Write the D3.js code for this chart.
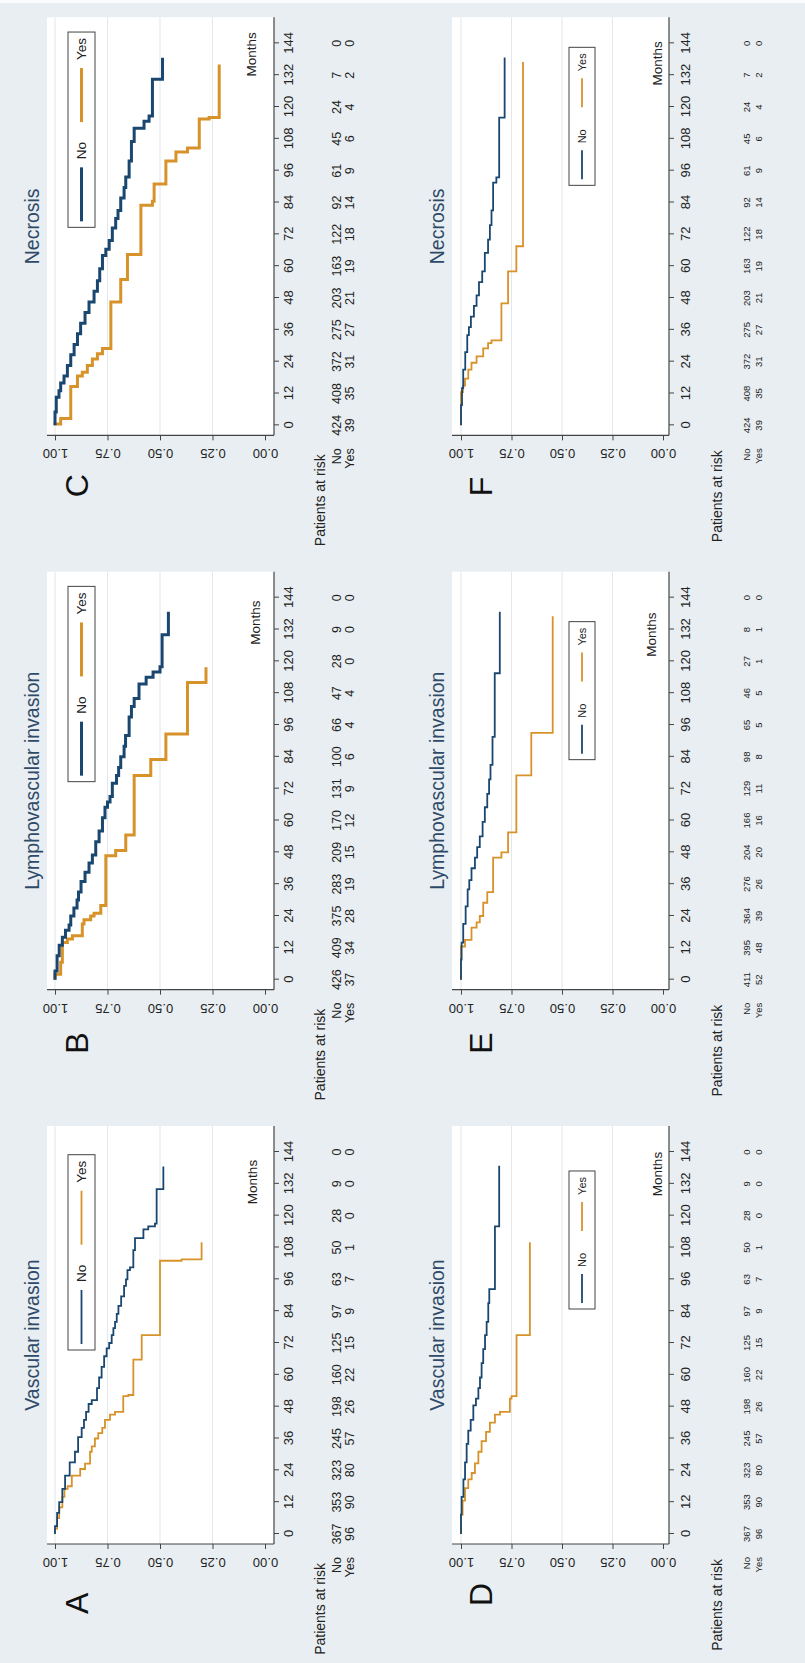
<!DOCTYPE html>
<html>
<head>
<meta charset="utf-8">
<script src="https://cdn.jsdelivr.net/npm/d3@7"></script>
<style>
  body { margin: 0; background: #e8eef1; }
  svg { display: block; }
  text { font-family: "Liberation Sans", Arial, sans-serif; }
</style>
</head>
<body>
<div id="chart"></div>
<script>
// ---- data ----
var months = [0, 12, 24, 36, 48, 60, 72, 84, 96, 108, 120, 132, 144];
var survTicks = [0, 0.25, 0.5, 0.75, 1];
var survLabels = ["0.00", "0.25", "0.50", "0.75", "1.00"];
var groups = ["No", "Yes"];
var titles = ["Vascular invasion", "Lymphovascular invasion", "Necrosis",
              "Vascular invasion", "Lymphovascular invasion", "Necrosis"];
var letters = ["A", "B", "C", "D", "E", "F"];

// Kaplan-Meier steps: [month, survival after the drop]; last pair = end of follow-up
var kmA_No = [[0,1],[3,0.99],[8,0.98],[12,0.965],[17,0.952],[22,0.93],[27,0.905],[31,0.89],[36.5,0.873],[40,0.862],[43,0.852],[46,0.84],[49,0.825],[50.5,0.80],[55,0.79],[59,0.778],[63,0.766],[67,0.754],[70,0.742],[72,0.73],[75,0.722],[77.6,0.714],[80,0.706],[83,0.698],[86,0.685],[89.6,0.671],[93.5,0.662],[96,0.655],[99.5,0.643],[100.5,0.627],[107,0.619],[111.5,0.579],[114.8,0.556],[116,0.524],[117,0.516],[130,0.484],[138.5,0.484]];
var kmA_Yes = [[0,1],[2,0.99],[6,0.98],[10,0.965],[14,0.955],[17,0.94],[18,0.92],[22,0.88],[24.5,0.857],[26.5,0.833],[31,0.825],[33,0.81],[36,0.794],[38,0.775],[40,0.762],[43,0.738],[45,0.714],[46,0.675],[52,0.651],[52.4,0.627],[65.7,0.587],[75,0.50],[103,0.397],[103.5,0.302],[110,0.302]];
var kmB_No = [[0,1],[3.3,0.99],[9,0.98],[13,0.965],[16,0.95],[18.6,0.933],[20.6,0.925],[24,0.91],[27,0.895],[30,0.888],[33,0.876],[37,0.857],[40.5,0.838],[44,0.822],[47,0.806],[52,0.79],[56,0.774],[61,0.762],[65,0.75],[67,0.738],[69,0.727],[74,0.707],[77,0.697],[80,0.687],[84,0.671],[88,0.664],[92,0.647],[99,0.636],[103,0.623],[106,0.60],[111.5,0.566],[114,0.533],[116,0.50],[118,0.49],[130,0.46],[138.7,0.46]];
var kmB_Yes = [[0,1],[2,0.973],[6.6,0.965],[14,0.941],[15.3,0.917],[16.6,0.87],[21,0.862],[22.6,0.83],[24,0.814],[25,0.782],[28,0.758],[46.7,0.711],[48.7,0.663],[54.5,0.623],[77,0.544],[83,0.472],[92.6,0.369],[112,0.281],[117.8,0.281]];
var kmC_No = [[0,1],[5,0.994],[10.6,0.981],[13,0.973],[16,0.957],[18.6,0.941],[22.6,0.925],[26.6,0.909],[30.5,0.893],[34.5,0.878],[38.5,0.857],[42.5,0.838],[46.5,0.814],[50.5,0.798],[54.5,0.787],[59,0.774],[64,0.758],[66.4,0.742],[69.7,0.727],[74.4,0.711],[78,0.70],[81,0.687],[85.7,0.671],[89.7,0.663],[93.6,0.647],[99.6,0.636],[107,0.623],[112,0.576],[114.6,0.552],[116.6,0.536],[130.5,0.488],[138.6,0.488]];
var kmC_Yes = [[0,1],[0.5,0.973],[2.6,0.925],[14.6,0.893],[18.6,0.870],[20,0.846],[22.6,0.822],[25,0.798],[27,0.774],[29,0.734],[46.5,0.687],[55,0.655],[64.4,0.591],[83,0.536],[84.5,0.528],[91,0.472],[99.6,0.424],[103,0.369],[104.5,0.313],[115.5,0.266],[116,0.218],[136,0.218]];
var kmD_No = [[0,1],[7.3,0.997],[14,0.988],[20.6,0.98],[27,0.972],[34,0.964],[39,0.952],[43,0.939],[48.5,0.926],[51,0.914],[55,0.906],[59,0.898],[64.4,0.89],[69.7,0.881],[75,0.873],[80,0.865],[87,0.86],[92.3,0.832],[116,0.811],[138.8,0.811]];
var kmD_Yes = [[0,1],[7.3,0.992],[12.6,0.98],[17.3,0.964],[20.6,0.947],[23,0.931],[26.6,0.914],[31,0.898],[35,0.876],[38.5,0.857],[42,0.832],[45,0.807],[46,0.758],[51,0.75],[52,0.725],[75,0.659],[110,0.659]];
var kmE_No = [[0,1],[7.6,0.997],[14,0.989],[21,0.977],[27.6,0.967],[34,0.959],[37.5,0.948],[42,0.931],[46,0.92],[50,0.907],[54,0.893],[59.5,0.882],[65,0.87],[70,0.861],[75.5,0.854],[81,0.844],[91.5,0.833],[115.5,0.808],[138.7,0.808]];
var kmE_Yes = [[0,1],[12.5,0.98],[15,0.948],[19.6,0.923],[21.6,0.907],[24,0.89],[29,0.87],[33,0.841],[46,0.80],[48,0.767],[55.5,0.726],[77,0.652],[93,0.546],[137,0.546]];
var kmF_No = [[0,1],[7.6,0.995],[14,0.989],[21,0.979],[27.6,0.969],[34,0.961],[37,0.951],[41,0.936],[45,0.923],[49,0.911],[54,0.895],[58,0.882],[65,0.866],[70,0.857],[75.5,0.849],[81,0.841],[91.5,0.825],[93.5,0.811],[116,0.784],[138.7,0.784]];
var kmF_Yes = [[0,1],[12.5,0.99],[15,0.98],[17.6,0.964],[21,0.948],[23.6,0.923],[26,0.89],[29,0.866],[31,0.849],[32,0.80],[46,0.767],[58,0.726],[67.5,0.693],[137,0.693]];

// patients at risk at each month tick
var riskA_No  = [367, 353, 323, 245, 198, 160, 125, 97, 63, 50, 28, 9, 0];
var riskA_Yes = [96, 90, 80, 57, 26, 22, 15, 9, 7, 1, 0, 0, 0];
var riskB_No  = [426, 409, 375, 283, 209, 170, 131, 100, 66, 47, 28, 9, 0];
var riskB_Yes = [37, 34, 28, 19, 15, 12, 9, 6, 4, 4, 0, 0, 0];
var riskC_No  = [424, 408, 372, 275, 203, 163, 122, 92, 61, 45, 24, 7, 0];
var riskC_Yes = [39, 35, 31, 27, 21, 19, 18, 14, 9, 6, 4, 2, 0];
var riskD_No  = [367, 353, 323, 245, 198, 160, 125, 97, 63, 50, 28, 9, 0];
var riskD_Yes = [96, 90, 80, 57, 26, 22, 15, 9, 7, 1, 0, 0, 0];
var riskE_No  = [411, 395, 364, 276, 204, 166, 129, 98, 65, 46, 27, 8, 0];
var riskE_Yes = [52, 48, 39, 26, 20, 16, 11, 8, 5, 5, 1, 1, 0];
var riskF_No  = [424, 408, 372, 275, 203, 163, 122, 92, 61, 45, 24, 7, 0];
var riskF_Yes = [39, 35, 31, 27, 21, 19, 18, 14, 9, 6, 4, 2, 0];

// ---- layout ----
var W = 805, H = 1663;
var PW = H / 3;          // panel width in the unrotated figure
var navy = "#1a476f", orange = "#d8922a";

var rows = [
  {y0: 0,   top: 47, bottom: 274, s1: 55, s0: 265, tickBase: 19, titleBase: 39,
   legY: 68, legH: 27, legKey: 54, legFont: 13.5, legGap: 8, legGap2: 20,
   riskNo: 341, riskYes: 354, riskFont: 12.5, parY: 325, parEnd: 100, letterY: 88},
  {y0: 400, top: 52, bottom: 269, s1: 61, s0: 263, tickBase: 21, titleBase: 44,
   legY: 169, legH: 26, legKey: 29, legFont: 11, legGap: 7, legGap2: 22,
   riskNo: 350, riskYes: 362, riskFont: 9.5, parY: 322, parEnd: 104, letterY: 92}
];

var panels = [
  {no: kmA_No, yes: kmA_Yes, rNo: riskA_No, rYes: riskA_Yes, col: 0, row: 0, lw: 1.8, legX: 313, mX: 481, mY: 257, lX: 49},
  {no: kmB_No, yes: kmB_Yes, rNo: riskB_No, rYes: riskB_Yes, col: 1, row: 0, lw: 3,   legX: 327, mX: 486, mY: 260, lX: 55},
  {no: kmC_No, yes: kmC_Yes, rNo: riskC_No, rYes: riskC_Yes, col: 2, row: 0, lw: 3,   legX: 327, mX: 500, mY: 256, lX: 57},
  {no: kmD_No, yes: kmD_Yes, rNo: riskD_No, rYes: riskD_Yes, col: 0, row: 1, lw: 1.8, legX: 354, mX: 489, mY: 262, lX: 57},
  {no: kmE_No, yes: kmE_Yes, rNo: riskE_No, rYes: riskE_Yes, col: 1, row: 1, lw: 1.8, legX: 349, mX: 474, mY: 256, lX: 55},
  {no: kmF_No, yes: kmF_Yes, rNo: riskF_No, rYes: riskF_Yes, col: 2, row: 1, lw: 1.8, legX: 369, mX: 491, mY: 262, lX: 58}
];

var svg = d3.select("#chart").append("svg")
  .attr("width", W)
  .attr("height", H);

svg.append("rect").attr("width", W).attr("height", H).attr("fill", "#e8eef1");
svg.append("rect").attr("width", W).attr("height", 3).attr("fill", "#fbfcfd");

// whole figure is turned a quarter turn counter-clockwise
var root = svg.append("g").attr("transform", "translate(0," + H + ") rotate(-90)");

var axisX = 119, plotRight = 537;

panels.forEach(function (p, i) {
  var r = rows[p.row];
  var g = root.append("g")
    .attr("transform", "translate(" + (p.col * PW) + "," + r.y0 + ")");

  var x = d3.scaleLinear().domain([0, 144]).range([129, 511]);
  var y = d3.scaleLinear().domain([0, 1]).range([r.s0, r.s1]);

  g.append("rect")
    .attr("x", axisX).attr("y", r.top)
    .attr("width", plotRight - axisX).attr("height", r.bottom - r.top)
    .attr("fill", "#fff");

  // grid lines
  g.selectAll(".grid").data(survTicks.filter(function (d) { return d > 0; }))
    .enter().append("line")
    .attr("x1", axisX).attr("x2", plotRight)
    .attr("y1", function (d) { return y(d); })
    .attr("y2", function (d) { return y(d); })
    .attr("stroke", "#e1e7eb").attr("stroke-width", 1);

  // curves
  var line = d3.line()
    .x(function (d) { return x(d[0]); })
    .y(function (d) { return y(d[1]); })
    .curve(d3.curveStepAfter);

  g.append("path").attr("d", line(p.yes))
    .attr("fill", "none").attr("stroke", orange).attr("stroke-width", p.lw);
  g.append("path").attr("d", line(p.no))
    .attr("fill", "none").attr("stroke", navy).attr("stroke-width", p.lw);

  // x axis
  var xa = g.append("g")
    .attr("transform", "translate(0," + r.bottom + ")")
    .call(d3.axisBottom(x).tickValues(months).tickSize(5).tickSizeOuter(0));
  xa.select(".domain").remove();
  xa.selectAll("line").attr("stroke", "#444");
  xa.selectAll("text")
    .attr("y", r.tickBase).attr("dy", null)
    .attr("fill", "#222")
    .style("font-size", "13px")
    .style("font-family", "'Liberation Sans', Arial, sans-serif");

  // y axis
  var ya = g.append("g")
    .attr("transform", "translate(" + axisX + ",0)")
    .call(d3.axisLeft(y).tickValues(survTicks)
      .tickFormat(function (d, k) { return survLabels[k]; })
      .tickSize(5).tickSizeOuter(0));
  ya.select(".domain").remove();
  ya.selectAll("line").attr("stroke", "#444");
  ya.selectAll("text")
    .attr("transform", "rotate(-90)")
    .attr("x", 0).attr("y", -14).attr("dy", null)
    .attr("text-anchor", "middle")
    .attr("fill", "#222")
    .style("font-size", "13px")
    .style("font-family", "'Liberation Sans', Arial, sans-serif");

  g.append("line").attr("x1", axisX).attr("x2", plotRight)
    .attr("y1", r.bottom).attr("y2", r.bottom)
    .attr("stroke", "#444").attr("stroke-width", 1.2);
  g.append("line").attr("x1", axisX).attr("x2", axisX)
    .attr("y1", r.top).attr("y2", r.bottom)
    .attr("stroke", "#444").attr("stroke-width", 1.2);

  // months label
  g.append("text").attr("x", p.mX).attr("y", p.mY)
    .attr("text-anchor", "middle").attr("fill", "#222")
    .style("font-size", "13.5px").text("Months");

  // title
  g.append("text").attr("x", (axisX + plotRight) / 2).attr("y", r.titleBase)
    .attr("text-anchor", "middle").attr("fill", "#2e4a68")
    .style("font-size", "19.5px").text(titles[i]);

  // panel letter
  g.append("text").attr("x", p.lX).attr("y", r.letterY)
    .attr("fill", "#111").style("font-size", "32px").text(letters[i]);

  // legend
  var leg = g.append("g");
  var box = leg.append("rect");
  var cy = r.legY + r.legH / 2;
  var cx = p.legX + 6;
  [navy, orange].forEach(function (c, k) {
    leg.append("line").attr("x1", cx).attr("x2", cx + r.legKey)
      .attr("y1", cy).attr("y2", cy)
      .attr("stroke", c).attr("stroke-width", p.lw);
    cx += r.legKey + r.legGap;
    var t = leg.append("text").attr("x", cx).attr("y", cy + r.legFont * 0.36)
      .attr("fill", "#222").style("font-size", r.legFont + "px").text(groups[k]);
    cx += t.node().getComputedTextLength() + (k === 0 ? r.legGap2 : 6);
  });
  box.attr("x", p.legX).attr("y", r.legY)
    .attr("width", cx - p.legX).attr("height", r.legH)
    .attr("fill", "#fff").attr("stroke", "#444").attr("stroke-width", 1);

  // risk table
  g.append("text").attr("x", r.parEnd).attr("y", r.parY)
    .attr("text-anchor", "end").attr("fill", "#222")
    .style("font-size", "14px").text("Patients at risk");
  [[p.rNo, r.riskNo], [p.rYes, r.riskYes]].forEach(function (row, k) {
    g.append("text").attr("x", 106).attr("y", row[1])
      .attr("text-anchor", "end").attr("fill", "#222")
      .style("font-size", r.riskFont + "px").text(groups[k]);
    g.selectAll(".risk" + k).data(row[0]).enter().append("text")
      .attr("x", function (d, j) { return x(months[j]); })
      .attr("y", row[1])
      .attr("text-anchor", "middle").attr("fill", "#222")
      .style("font-size", r.riskFont + "px")
      .text(function (d) { return d; });
  });
});
</script>
</body>
</html>
